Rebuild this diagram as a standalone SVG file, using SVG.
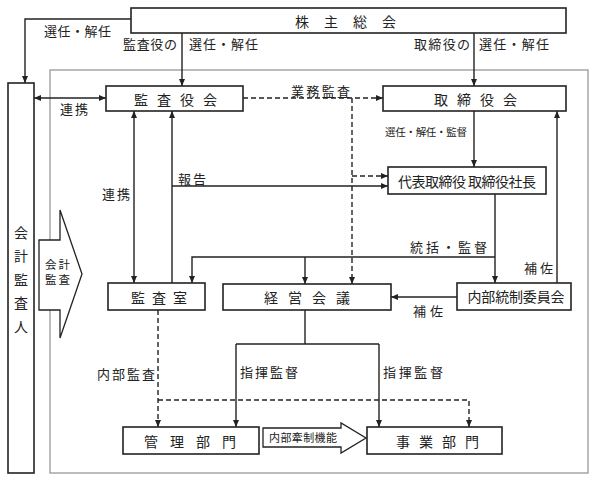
<svg xmlns="http://www.w3.org/2000/svg" width="598" height="481" viewBox="0 0 598 481">
<defs>
<style>
text{font-family:"Noto Sans CJK JP","Noto Sans CJK SC",sans-serif;fill:#222;}
.box{fill:#fff;stroke:#222;stroke-width:1.6;}
.bt{font-size:14px;text-anchor:middle;dominant-baseline:central;}
.lb{font-size:13px;dominant-baseline:central;}
.sm{font-size:10.5px;dominant-baseline:central;}
.ln{fill:none;stroke:#222;stroke-width:1.4;}
.ds{fill:none;stroke:#222;stroke-width:1.4;stroke-dasharray:5,3;}
.ar{fill:#fff;stroke:#222;stroke-width:1.3;}
.at{font-size:11.5px;dominant-baseline:central;}
</style>
<marker id="ah" markerWidth="8" markerHeight="8" refX="7" refY="4" orient="auto-start-reverse" markerUnits="userSpaceOnUse">
<path d="M0,1 L7,4 L0,7 z" fill="#222"/>
</marker>
</defs>
<rect width="598" height="481" fill="#fff"/>
<rect x="50" y="70" width="538" height="403" fill="none" stroke="#999" stroke-width="1.3"/>

<g id="connectors">
<path class="ln" d="M131,19 H25 V83" marker-end="url(#ah)"/>
<path class="ln" d="M182,33 V86" marker-end="url(#ah)"/>
<path class="ln" d="M474,33 V86" marker-end="url(#ah)"/>
<path class="ln" d="M34,98 H106" marker-start="url(#ah)" marker-end="url(#ah)"/>
<path class="ds" d="M243,98 H383" marker-end="url(#ah)"/>
<path class="ds" d="M352,98 V284" marker-end="url(#ah)"/>
<path class="ds" d="M352,176 H388" marker-end="url(#ah)"/>
<path class="ln" d="M474,111 V167" marker-end="url(#ah)"/>
<path class="ln" d="M495,194 V283" marker-end="url(#ah)"/>
<path class="ln" d="M495,257 H192 V283" marker-end="url(#ah)"/>
<path class="ln" d="M305,257 V284" marker-end="url(#ah)"/>
<path class="ln" d="M557,283 V111" marker-end="url(#ah)"/>
<path class="ln" d="M457,297 H391" marker-end="url(#ah)"/>
<path class="ln" d="M134,111 V283" marker-start="url(#ah)" marker-end="url(#ah)"/>
<path class="ln" d="M172,283 V111" marker-end="url(#ah)"/>
<path class="ln" d="M172,186 H388" marker-end="url(#ah)"/>
<path class="ln" d="M305,310 V344 M236,344 H379"/>
<path class="ln" d="M236,344 V427" marker-end="url(#ah)"/>
<path class="ln" d="M379,344 V427" marker-end="url(#ah)"/>
<path class="ds" d="M158,310 V427" marker-end="url(#ah)"/>
<path class="ds" d="M158,400 H469 V427" marker-end="url(#ah)"/>
</g>

<g id="labels">
<text class="lb" x="44" y="30" textLength="67">選任・解任</text>
<text class="lb" x="123" y="43" textLength="54">監査役の</text>
<text class="lb" x="189" y="43" textLength="69">選任・解任</text>
<text class="lb" x="414" y="43" textLength="56">取締役の</text>
<text class="lb" x="479" y="43" textLength="70">選任・解任</text>
<text class="lb" x="291" y="90" textLength="59">業務監査</text>
<text class="lb" x="60" y="108" textLength="28">連携</text>
<text class="sm" x="385" y="131" textLength="82">選任・解任・監督</text>
<text class="lb" x="178" y="178" textLength="28">報告</text>
<text class="lb" x="102" y="193" textLength="28">連携</text>
<text class="lb" x="410" y="246" textLength="77">統括・監督</text>
<text class="lb" x="524" y="267" textLength="29">補佐</text>
<text class="lb" x="413" y="310" textLength="30">補佐</text>
<text class="lb" x="97" y="373" textLength="58">内部監査</text>
<text class="lb" x="240" y="371" textLength="58">指揮監督</text>
<text class="lb" x="383" y="371" textLength="60">指揮監督</text>
</g>

<g id="n-kabunushi">
<rect class="box" x="131" y="8" width="435" height="25"/>
<text class="bt" x="302 331 360 389" y="21">株主総会</text>
</g>

<g id="n-kaikei-kansanin">
<rect class="box" x="8" y="83" width="26" height="390"/>
<text class="bt" x="21 21 21 21 21" y="232 255 279 302 326">会計監査人</text>
</g>

<g id="n-kansayakukai">
<rect class="box" x="106" y="86" width="137" height="25"/>
<text class="bt" x="141 164 187 210" y="99">監査役会</text>
</g>

<g id="n-torishimariyakukai">
<rect class="box" x="383" y="86" width="183" height="25"/>
<text class="bt" x="441 464 487 510" y="99">取締役会</text>
</g>

<g id="n-daihyo">
<rect class="box" x="388" y="167" width="158" height="27"/>
<text class="bt" x="467" y="181" textLength="138">代表取締役 取締役社長</text>
</g>

<g id="n-kansashitsu">
<rect class="box" x="108" y="283" width="97" height="27"/>
<text class="bt" x="138 159 180" y="297">監査室</text>
</g>

<g id="n-keieikaigi">
<rect class="box" x="223" y="284" width="168" height="26"/>
<text class="bt" x="271 295 319 343" y="297">経営会議</text>
</g>

<g id="n-naibutousei">
<rect class="box" x="457" y="283" width="114" height="27"/>
<text class="bt" x="516" y="296" textLength="97">内部統制委員会</text>
</g>

<g id="n-kanri">
<rect class="box" x="123" y="427" width="136" height="27"/>
<text class="bt" x="151 177 203 229" y="441">管理部門</text>
</g>

<g id="n-jigyo">
<rect class="box" x="367" y="427" width="135" height="27"/>
<text class="bt" x="403 426 449 472" y="441">事業部門</text>
</g>

<g id="n-kaikei-kansa">
<polygon class="ar" points="39,240 60,240 60,210 82,274 60,338 60,310 39,310"/>
<text class="at" x="45" y="264" textLength="25">会計</text>
<text class="at" x="45" y="279" textLength="25">監査</text>
</g>

<g id="n-naibukensei">
<polygon class="ar" points="263,428 341,428 341,423 366,438 341,453 341,447 263,447"/>
<text style="font-size:11px;dominant-baseline:central" x="269" y="437" textLength="68">内部牽制機能</text>
</g>
</svg>
